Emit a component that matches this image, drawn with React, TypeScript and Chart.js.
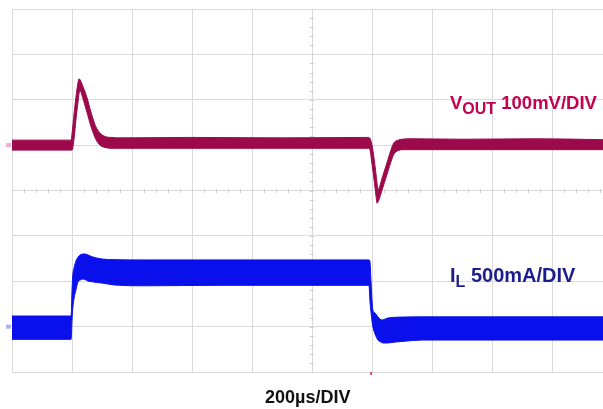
import { useEffect, useRef } from "react";
import { Chart, registerables } from "chart.js";

Chart.register(...registerables);

// Time base: 200 µs per division, screen shows 9.85 divisions
const TIME_PER_DIV = 200;
const X_MAX = 1970;
const X_DIV_TICKS = [0, 200, 400, 600, 800, 1000, 1200, 1400, 1600, 1800];

// Output voltage deviation (mV), 100 mV/DIV — envelope of the noisy trace
const vTime = [0, 197, 200, 207, 213, 220, 223, 227, 233, 243, 253, 260, 270, 280, 293, 310, 330, 360, 600, 900, 1187, 1193, 1200, 1207, 1213, 1217, 1220, 1223, 1233, 1243, 1253, 1263, 1273, 1287, 1300, 1330, 1500, 1750, 1970];
const vUpper = [11, 11, 25, 70, 105, 138, 146, 144, 135, 118, 98, 80, 58, 40, 27, 19, 17, 16, 17, 16, 17, 15, 0, -30, -62, -85, -98, -96, -74, -53, -32, -11, 5, 11, 13, 14, 13, 14, 12];
const vLower = [-11, -11, -11, 15, 55, 95, 112, 120, 110, 88, 65, 48, 28, 12, 0, -5, -7, -7, -7, -7, -7, -10, -42, -77, -110, -128, -125, -121, -100, -79, -58, -37, -20, -12, -10, -10, -10, -10, -10];

// Inductor current (mA), 500 mA/DIV — ripple envelope
const iTime = [0, 197, 200, 203, 207, 213, 220, 227, 237, 243, 253, 267, 283, 300, 343, 443, 700, 1000, 1190, 1193, 1197, 1200, 1203, 1210, 1220, 1233, 1237, 1253, 1267, 1277, 1310, 1367, 1600, 1970];
const iUpper = [117, 117, 400, 580, 650, 720, 765, 790, 800, 800, 790, 770, 755, 745, 738, 735, 735, 735, 735, 720, 480, 293, 183, 150, 106, 73, 75, 95, 100, 103, 106, 108, 108, 108];
const iLower = [-140, -140, 73, 216, 315, 403, 491, 513, 524, 520, 502, 495, 486, 480, 458, 450, 455, 455, 455, 290, 150, 60, -4, -80, -148, -175, -181, -180, -175, -170, -160, -148, -148, -148];

// Vertical ranges (8 divisions each)
const V_MIN = -500;
const V_MAX = 300;
const V_PER_DIV = 100;
const I_MIN = -500;
const I_MAX = 3500;

const TRIGGER_TIME = 1197;

const VOUT_COLOR = "#9c0a4c";
const IL_COLOR = "#0a10ec";
const GRID_COLOR = "#dadada";

const pts = (t: number[], v: number[]) => t.map((x, i) => ({ x, y: v[i] }));

// Minor ticks on the centre graticule lines plus channel / trigger markers
const scopeMarks = {
  id: "scopeMarks",
  beforeDatasetsDraw(chart: any) {
    const { ctx, scales } = chart;
    const xs = scales.x;
    const ys = scales.yV;
    const cy = Math.round(ys.getPixelForValue((V_MIN + V_MAX) / 2));
    const cx = Math.round(xs.getPixelForValue(TIME_PER_DIV * 5));
    ctx.save();
    ctx.strokeStyle = "#d2d2d2";
    ctx.lineWidth = 1;
    ctx.beginPath();
    for (let t = 0; t <= X_MAX; t += TIME_PER_DIV / 5) {
      const px = Math.round(xs.getPixelForValue(t)) + 0.5;
      ctx.moveTo(px, cy - 2);
      ctx.lineTo(px, cy + 2);
    }
    for (let v = V_MIN; v <= V_MAX; v += V_PER_DIV / 5) {
      const py = Math.round(ys.getPixelForValue(v)) + 0.5;
      ctx.moveTo(cx - 2, py);
      ctx.lineTo(cx + 2, py);
    }
    ctx.stroke();
    ctx.restore();
  },
  afterDraw(chart: any) {
    const { ctx, scales, chartArea } = chart;
    const left = chartArea.left;
    ctx.save();
    // channel reference markers
    const vy = scales.yV.getPixelForValue(0);
    ctx.fillStyle = "#eab0cb";
    ctx.fillRect(left - 6, vy - 2, 5, 4);
    const iy = scales.yI.getPixelForValue(0);
    ctx.fillStyle = "#aab4f0";
    ctx.fillRect(left - 6, iy - 2, 5, 4);
    // trigger position marker
    const tx = scales.x.getPixelForValue(TRIGGER_TIME);
    ctx.fillStyle = "#e0507a";
    ctx.fillRect(tx - 1, chartArea.bottom, 2, 3);
    ctx.restore();
  },
};

export default function App() {
  const ref = useRef<HTMLCanvasElement | null>(null);

  useEffect(() => {
    if (!ref.current) return;
    const band = (color: string) => ({
      borderColor: color,
      borderWidth: 1,
      pointRadius: 0,
      cubicInterpolationMode: "monotone" as const,
    });
    const chart = new Chart(ref.current, {
      type: "line",
      data: {
        datasets: [
          { label: "VOUT max", data: pts(vTime, vUpper), yAxisID: "yV", fill: false, ...band(VOUT_COLOR) },
          { label: "VOUT min", data: pts(vTime, vLower), yAxisID: "yV", fill: "-1", backgroundColor: VOUT_COLOR, ...band(VOUT_COLOR) },
          { label: "IL max", data: pts(iTime, iUpper), yAxisID: "yI", fill: false, ...band(IL_COLOR) },
          { label: "IL min", data: pts(iTime, iLower), yAxisID: "yI", fill: "-1", backgroundColor: IL_COLOR, ...band(IL_COLOR) },
        ],
      },
      options: {
        responsive: false,
        animation: false,
        layout: { padding: { left: 12, top: 9, right: 0, bottom: 37 } },
        plugins: { legend: { display: false }, tooltip: { enabled: false } },
        scales: {
          x: {
            type: "linear",
            min: 0,
            max: X_MAX,
            afterFit: (s: any) => { s.height = 0; },
            // one graticule line per whole 200 µs division
            afterBuildTicks: (s: any) => { s.ticks = X_DIV_TICKS.map((value) => ({ value })); },
            ticks: { display: false },
            grid: { color: GRID_COLOR, drawTicks: false, lineWidth: 1 },
            border: { display: false },
          },
          yV: {
            type: "linear",
            position: "left",
            min: V_MIN,
            max: V_MAX,
            afterFit: (s: any) => { s.width = 0; },
            ticks: { display: false, stepSize: V_PER_DIV },
            grid: { color: GRID_COLOR, drawTicks: false, lineWidth: 1 },
            border: { display: false },
          },
          yI: {
            type: "linear",
            position: "right",
            display: false,
            min: I_MIN,
            max: I_MAX,
          },
        },
      },
      plugins: [scopeMarks],
    });
    return () => chart.destroy();
  }, []);

  const labelBase: React.CSSProperties = {
    position: "absolute",
    fontFamily: "'Liberation Sans', Arial, sans-serif",
    fontWeight: "bold",
    lineHeight: 1,
    whiteSpace: "nowrap",
  };

  return (
    <div style={{ position: "fixed", left: 0, top: 0, width: 603, height: 409, background: "#fff", overflow: "hidden" }}>
      <canvas ref={ref} width={603} height={409} style={{ position: "absolute", left: 0, top: 0, width: 603, height: 409 }} />
      <div style={{ ...labelBase, left: 450, top: 94, fontSize: 18.5, color: "#c4004f" }}>
        V<span style={{ fontSize: 16, position: "relative", top: 5 }}>OUT</span> 100mV/DIV
      </div>
      <div style={{ ...labelBase, left: 450, top: 265, fontSize: 20, color: "#1c1c8c" }}>
        I<span style={{ fontSize: 16, position: "relative", top: 5 }}>L</span> 500mA/DIV
      </div>
      <div style={{ ...labelBase, left: 265, top: 388, fontSize: 18, color: "#111" }}>200µs/DIV</div>
    </div>
  );
}
